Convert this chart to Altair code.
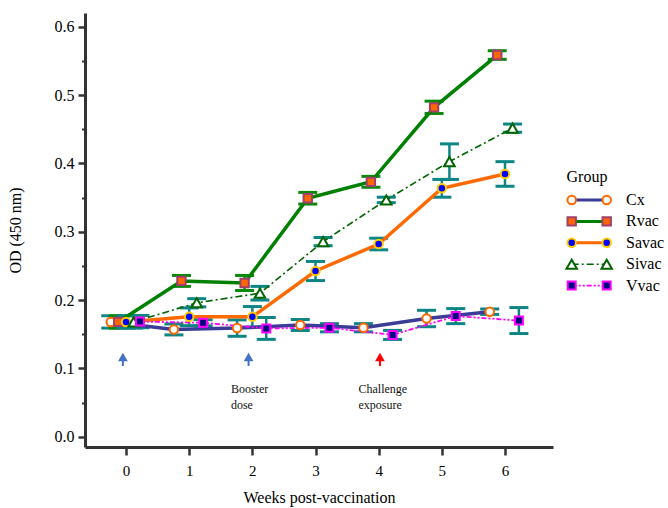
import altair as alt
import pandas as pd

# ---------------- data ----------------
weeks = [0, 1, 2, 3, 4, 5, 6]
groups = ["Cx", "Rvac", "Savac", "Sivac", "Vvac"]

cx_mean = [0.168, 0.157, 0.159, 0.1635, 0.1595, 0.173, 0.183]
cx_err = [0.009, 0.008, 0.012, 0.008, 0.006, 0.012, 0.004]
rvac_mean = [0.168, 0.228, 0.225, 0.349, 0.373, 0.482, 0.5585]
rvac_err = [0.009, 0.008, 0.011, 0.0085, 0.008, 0.009, 0.0063]
savac_mean = [0.168, 0.1755, 0.1755, 0.2425, 0.282, 0.3635, 0.3845]
savac_err = [0.009, 0.013, 0.015, 0.014, 0.0085, 0.013, 0.018]
sivac_mean = [0.168, 0.196, 0.210, 0.2855, 0.3465, 0.4025, 0.4515]
sivac_err = [0.009, 0.006, 0.010, 0.006, 0.004, 0.026, 0.006]
vvac_mean = [0.1685, 0.1668, 0.1585, 0.1595, 0.149, 0.1765, 0.170]
vvac_err = [0.009, 0.0045, 0.016, 0.006, 0.0066, 0.011, 0.019]

x_ticks = [0, 1, 2, 3, 4, 5, 6]
y_ticks = [0.0, 0.1, 0.2, 0.3, 0.4, 0.5, 0.6]
y_minor = [0.05, 0.15, 0.25, 0.35, 0.45, 0.55]

arrow_week = [-0.05, 1.94, 4.02]
arrow_kind = ["vac", "vac", "chal"]
note_text = ["Booster\ndose", "Challenge\nexposure"]
note_week = [1.66, 3.68]

series = {
    "Cx": (cx_mean, cx_err),
    "Rvac": (rvac_mean, rvac_err),
    "Savac": (savac_mean, savac_err),
    "Sivac": (sivac_mean, sivac_err),
    "Vvac": (vvac_mean, vvac_err),
}

# ---------------- styles ----------------
FONT = "Liberation Serif"
TEAL = "#0e8585"
styles = {
    "Cx": dict(line="#3b3b98", width=3.5, dash=None, shape="circle",
               fill="#ffffff", stroke="#ff6600", size=72, offset=-0.242, err=TEAL),
    "Rvac": dict(line="#008000", width=3.5, dash=None, shape="square",
                 fill="#ff6600", stroke="#a0406a", size=70, offset=-0.123, err="#0a8a0a"),
    "Savac": dict(line="#ff6a00", width=3.5, dash=None, shape="circle",
                  fill="#0000ff", stroke="#ffcc00", size=72, offset=0.0, err=TEAL),
    "Sivac": dict(line="#006400", width=1.6, dash=[7, 3, 2, 3], shape="triangle-up",
                  fill="#ffffff", stroke="#006400", size=110, offset=0.12, err=TEAL),
    "Vvac": dict(line="#ff00ff", width=1.8, dash=[5, 2, 2, 2, 2, 2], shape="square",
                 fill="#000080", stroke="#ff00ff", size=64, offset=0.22, err=TEAL),
}

rows = []
for g in groups:
    m, e = series[g]
    for w, v, s in zip(weeks, m, e):
        rows.append({"group": g, "week": w, "mean": v, "err": s})
df = pd.DataFrame(rows)
df["xpos"] = df["week"] + df["group"].map({g: styles[g]["offset"] for g in groups})
df["lo"] = df["mean"] - df["err"]
df["hi"] = df["mean"] + df["err"]

xs = alt.Scale(domain=[-0.65, 6.76], nice=False, zero=False)
ys = alt.Scale(domain=[-0.015, 0.62], nice=False, zero=False)

AX = "#333333"
x_axis = alt.Axis(values=x_ticks, format="d", title="Weeks post-vaccination", grid=False,
                  orient="bottom",
                  domainColor=AX, domainWidth=3, tickColor=AX, tickWidth=2.5, tickSize=8,
                  labelFont=FONT, labelFontSize=15, labelColor="black", labelPadding=8,
                  labelFlush=False, titleFont=FONT, titleFontSize=16, titleFontWeight="normal",
                  titleColor="black", titlePadding=11)
y_axis = alt.Axis(values=y_ticks, format=".1f", title="OD (450 nm)", orient="left", grid=False,
                  domainColor=AX, domainWidth=3, tickColor=AX, tickWidth=2.5, tickSize=7,
                  labelFont=FONT, labelFontSize=16, labelColor="black", labelPadding=4,
                  labelFlush=False, titleFont=FONT, titleFontSize=16, titleFontWeight="normal",
                  titleColor="black", titlePadding=31)
y_axis_minor = alt.Axis(values=y_minor, labels=False, title="", orient="left", grid=False,
                        domain=False, tickColor=AX, tickWidth=2, tickSize=3.5)

base = alt.Chart(df)

axis_layer = base.mark_point(opacity=0).encode(
    x=alt.X("xpos:Q", scale=xs, axis=x_axis),
    y=alt.Y("mean:Q", scale=ys, axis=y_axis),
)
minor_layer = base.mark_point(opacity=0).encode(
    x=alt.X("xpos:Q", scale=xs, axis=None),
    y=alt.Y("mean:Q", scale=ys, axis=y_axis_minor),
)

X = alt.X("xpos:Q", scale=xs, axis=None)

err_layers, line_layers, point_layers = [], [], []
for g in groups:
    st = styles[g]
    sub = base.transform_filter(alt.datum.group == g)
    err_layers.append(sub.mark_rule(color=st["err"], strokeWidth=2.5).encode(
        x=X, y=alt.Y("lo:Q", scale=ys, axis=None), y2="hi:Q"))
    for fld in ["lo", "hi"]:
        err_layers.append(sub.mark_tick(color=st["err"], orient="horizontal", size=19,
                                        thickness=3, opacity=1).encode(
            x=X, y=alt.Y(f"{fld}:Q", scale=ys, axis=None)))
    lkw = dict(color=st["line"], strokeWidth=st["width"])
    if st["dash"]:
        lkw["strokeDash"] = st["dash"]
    line_layers.append(sub.mark_line(**lkw).encode(
        x=X, y=alt.Y("mean:Q", scale=ys, axis=None), order="week:Q"))
    point_layers.append(sub.mark_point(shape=st["shape"], fill=st["fill"], stroke=st["stroke"],
                                       strokeWidth=2, size=st["size"], opacity=1,
                                       fillOpacity=1).encode(
        x=X, y=alt.Y("mean:Q", scale=ys, axis=None)))

# annotations: arrows and notes
arrow_df = pd.DataFrame({"week": arrow_week, "kind": arrow_kind})
arrow_df["ybase"] = 0.1035
arrow_df["ytip"] = 0.1166
acol = alt.Color("kind:N", scale=alt.Scale(domain=["vac", "chal"], range=["#4472c4", "#ff0000"]),
                 legend=None)
AXX = alt.X("week:Q", scale=xs, axis=None)
arrow_shaft = alt.Chart(arrow_df).mark_rule(strokeWidth=2).encode(
    x=AXX, y=alt.Y("ybase:Q", scale=ys, axis=None), y2="ytip:Q", color=acol)
arrow_head = alt.Chart(arrow_df).mark_point(shape="triangle-up", size=95, filled=True,
                                            opacity=1).encode(
    x=AXX, y=alt.Y("ytip:Q", scale=ys, axis=None), color=acol)

note_df = pd.DataFrame({"week": note_week, "txt": note_text})
note_df["ylab"] = 0.064
notes = alt.Chart(note_df).mark_text(align="left", baseline="alphabetic", lineBreak="\n",
                                     lineHeight=15.5, font=FONT, fontSize=12,
                                     color="#111111").encode(
    x=AXX, y=alt.Y("ylab:Q", scale=ys, axis=None), text="txt:N")

# ---------------- custom legend (decoration, pixel-placed rows) ----------------
leg_df = pd.DataFrame({"group": groups})
LX0, LX1, LXT = 486.7, 521.7, 541
ROW0, ROWSTEP = 187.0, 21.4
leg_layers = []
for i, g in enumerate(groups):
    st = styles[g]
    yy = alt.value(ROW0 + i * ROWSTEP)
    sub = alt.Chart(leg_df).transform_filter(alt.datum.group == g)
    lkw = dict(color=st["line"], strokeWidth=min(st["width"], 3))
    if st["dash"]:
        lkw["strokeDash"] = st["dash"]
    leg_layers.append(sub.mark_rule(**lkw).encode(x=alt.value(LX0), x2=alt.value(LX1), y=yy))
    for xv in (LX0, LX1):
        leg_layers.append(sub.mark_point(shape=st["shape"], fill=st["fill"], stroke=st["stroke"],
                                         strokeWidth=2, size=st["size"], opacity=1,
                                         fillOpacity=1).encode(x=alt.value(xv), y=yy))
    leg_layers.append(sub.mark_text(align="left", baseline="middle", font=FONT, fontSize=16,
                                    color="black").encode(x=alt.value(LXT), y=yy,
                                                          text="group:N"))

title_df = pd.DataFrame({"t": ["Group"]})
leg_title = alt.Chart(title_df).mark_text(align="left", baseline="middle", font=FONT,
                                          fontSize=16, color="black").encode(
    x=alt.value(481.5), y=alt.value(163.7), text="t:N")

chart = alt.layer(axis_layer, minor_layer, *err_layers, *line_layers, *point_layers,
                  arrow_shaft, arrow_head, notes, *leg_layers, leg_title).resolve_axis(
    x="independent", y="independent").properties(
    width=468, height=434,
    padding={"left": 85, "top": 13, "right": 115, "bottom": 61},
    autosize=alt.AutoSizeParams(type="none"),
    background="white",
).configure(font=FONT).configure_axis(labelFont=FONT, titleFont=FONT).configure_view(
    strokeWidth=0)

chart.save("out.html", embed_options={"renderer": "svg", "actions": False})
